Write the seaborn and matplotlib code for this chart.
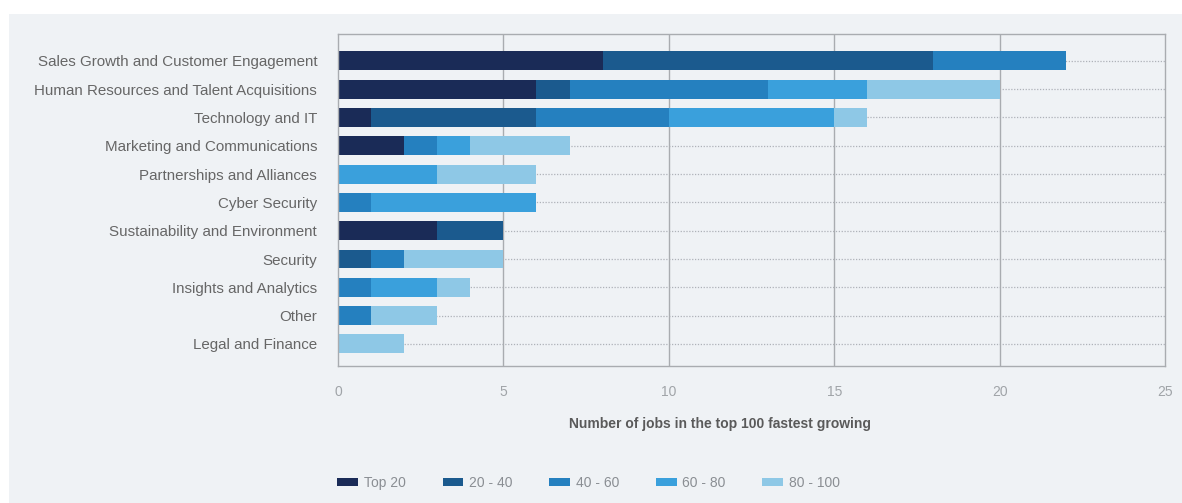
import matplotlib
matplotlib.use("Agg")
import matplotlib.pyplot as plt
import matplotlib.patches as mpatches
import seaborn as sns
import pandas as pd
import numpy as np

categories = [
    "Sales Growth and Customer Engagement",
    "Human Resources and Talent Acquisitions",
    "Technology and IT",
    "Marketing and Communications",
    "Partnerships and Alliances",
    "Cyber Security",
    "Sustainability and Environment",
    "Security",
    "Insights and Analytics",
    "Other",
    "Legal and Finance",
]
series_names = ["Top 20", "20 - 40", "40 - 60", "60 - 80", "80 - 100"]
top20 =    [8, 6, 1, 2, 0, 0, 3, 0, 0, 0, 0]
r20_40 =   [10, 1, 5, 0, 0, 0, 2, 1, 0, 0, 0]
r40_60 =   [4, 6, 4, 1, 0, 1, 0, 1, 1, 1, 0]
r60_80 =   [0, 3, 5, 1, 3, 5, 0, 0, 2, 0, 0]
r80_100 =  [0, 4, 1, 3, 3, 0, 0, 3, 1, 2, 2]
colors = ["#1a2b57", "#1b5a8e", "#2580bf", "#3aa0dc", "#8ec8e6"]
xticks = [0, 5, 10, 15, 20, 25]

series = [top20, r20_40, r40_60, r60_80, r80_100]
cum = np.cumsum(np.array(series), axis=0)

sns.set_theme(style="white")
plt.rcParams["font.family"] = ["Liberation Sans", "DejaVu Sans"]

bg = "#eff2f5"
fig = plt.figure(figsize=(11.82, 5.03), dpi=100, facecolor="white")
fig.patches.append(mpatches.Rectangle((9 / 1182, 0), 1, 1 - 14 / 503,
                                      transform=fig.transFigure, facecolor=bg,
                                      edgecolor="none", zorder=-10))
ax = fig.add_axes([338 / 1182, 1 - 366 / 503, (1165 - 338) / 1182, (366 - 34) / 503])
ax.set_facecolor(bg)

# horizontal dotted guides
for i in range(len(categories)):
    ax.axhline(i, color="#aeb2b8", lw=0.9, ls=(0, (1, 1.3)), zorder=0)
for xv in xticks[1:-1]:
    ax.axvline(xv, color="#a9acb0", lw=1.0, zorder=0.5)

for k in range(len(series) - 1, -1, -1):
    df = pd.DataFrame({"cat": categories, "val": cum[k]})
    sns.barplot(data=df, x="val", y="cat", orient="h", color=colors[k],
                width=0.67, saturation=1, ax=ax, zorder=2, linewidth=0,
                edgecolor="none")

ax.set_xlim(0, 25)
ax.set_ylim(10.78, -0.95)
ax.set_xticks(xticks)
ax.set_xticklabels([str(t) for t in xticks], color="#a0a4a8", fontsize=10)
ax.tick_params(axis="x", length=0, pad=14)
ax.tick_params(axis="y", length=0, pad=15, labelsize=10.9, labelcolor="#666666")
ax.set_xlabel("")
ax.set_ylabel("")
for s in ax.spines.values():
    s.set_visible(True)
    s.set_color("#a9acb0")
    s.set_linewidth(1.0)

fig.text(720 / 1182, 1 - 424 / 503, "Number of jobs in the top 100 fastest growing",
         ha="center", va="center", fontsize=10, fontweight="bold", color="#5a5a5a")

handles = [mpatches.Patch(facecolor=c, edgecolor="none") for c in colors]
leg = fig.legend(handles, series_names, loc="center left",
                 bbox_to_anchor=(325 / 1182, 1 - 483 / 503), ncol=5, frameon=False,
                 handlelength=1.5, handleheight=0.55, handletextpad=0.4,
                 columnspacing=2.65, fontsize=10)
for t in leg.get_texts():
    t.set_color("#8a8e93")

fig.savefig("out.png", dpi=100, facecolor="white")
